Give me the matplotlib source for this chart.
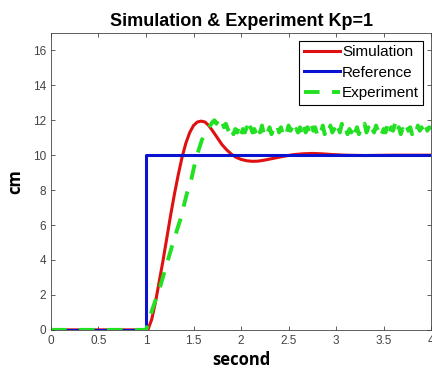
import matplotlib
matplotlib.use("Agg")
import matplotlib.pyplot as plt

plt.rcParams['font.family'] = ['Liberation Sans', 'DejaVu Sans']

# simulation response
sim_t = [0.0, 1.00, 1.02, 1.06, 1.10, 1.14, 1.18, 1.22, 1.26, 1.30, 1.34, 1.38,
         1.42, 1.46, 1.50, 1.54, 1.58, 1.62, 1.66, 1.70, 1.75, 1.80, 1.85,
         1.90, 1.95, 2.00, 2.06, 2.12, 2.18, 2.25, 2.35, 2.45, 2.55, 2.65,
         2.75, 2.85, 2.95, 3.10, 3.30, 3.60, 4.00]
sim_y = [0.0, 0.0, 0.0, 0.6, 1.6, 2.8, 4.0, 5.3, 6.6, 7.8, 8.9, 9.9,
         10.7, 11.3, 11.7, 11.9, 11.95, 11.9, 11.7, 11.4, 11.0, 10.6, 10.3,
         10.05, 9.87, 9.76, 9.68, 9.65, 9.66, 9.72, 9.83, 9.94, 10.03, 10.08,
         10.1, 10.08, 10.04, 10.0, 9.98, 10.0, 10.0]

# reference step
ref_t = [0.0, 1.0, 1.0, 4.0]
ref_y = [0.0, 0.0, 10.0, 10.0]

# experiment: rise part
exp_rise_t = [0.0, 1.00, 1.02, 1.04, 1.15, 1.29, 1.36, 1.43, 1.48, 1.53, 1.59, 1.64]
exp_rise_y = [0.0, 0.0, 0.3, 0.75, 2.5, 5.1, 6.3, 7.8, 8.7, 9.9, 10.9, 11.4]

# experiment: noisy plateau
exp_noise_t = [
    1.70, 1.72, 1.74, 1.76, 1.78, 1.80, 1.82, 1.84, 1.86,
    1.88, 1.90, 1.92, 1.94, 1.96, 1.98, 2.00, 2.02, 2.04, 2.06,
    2.08, 2.10, 2.12, 2.14, 2.16, 2.18, 2.20, 2.22, 2.24, 2.26,
    2.28, 2.30, 2.32, 2.34, 2.36, 2.38, 2.40, 2.42, 2.44, 2.46,
    2.48, 2.50, 2.52, 2.54, 2.56, 2.58, 2.60, 2.62, 2.64, 2.66,
    2.68, 2.70, 2.72, 2.74, 2.76, 2.78, 2.80, 2.82, 2.84, 2.86,
    2.88, 2.90, 2.92, 2.94, 2.96, 2.98, 3.00, 3.02, 3.04, 3.06,
    3.08, 3.10, 3.12, 3.14, 3.16, 3.18, 3.20, 3.22, 3.24, 3.26,
    3.28, 3.30, 3.32, 3.34, 3.36, 3.38, 3.40, 3.42, 3.44, 3.46,
    3.48, 3.50, 3.52, 3.54, 3.56, 3.58, 3.60, 3.62, 3.64, 3.66,
    3.68, 3.70, 3.72, 3.74, 3.76, 3.78, 3.80, 3.82, 3.84, 3.86,
    3.88, 3.90, 3.92, 3.94, 3.96, 3.98, 4.00]
exp_noise_y = [
    11.9, 12.0, 11.8, 12.0, 11.7, 11.9, 11.6, 11.8, 11.5,
    11.3, 11.6, 11.2, 11.5, 11.3, 11.7, 11.2, 11.5, 11.3, 11.6,
    11.2, 11.6, 11.3, 11.5, 11.2, 11.6, 11.3, 11.7, 11.2, 11.5,
    11.3, 11.6, 11.2, 11.5, 11.4, 11.7, 11.3, 11.6, 11.2, 11.5,
    11.3, 11.7, 11.4, 11.6, 11.2, 11.5, 11.3, 11.6, 11.2, 11.7,
    11.3, 11.6, 11.3, 11.8, 11.4, 11.6, 11.2, 11.5, 11.3, 11.7,
    11.2, 11.6, 11.4, 11.7, 11.3, 11.5, 11.2, 11.6, 11.3, 11.8,
    11.4, 11.6, 11.2, 11.5, 11.3, 11.7, 11.3, 11.6, 11.2, 11.5,
    11.4, 11.8, 11.3, 11.6, 11.2, 11.5, 11.3, 11.7, 11.4, 11.6,
    11.2, 11.5, 11.3, 11.7, 11.2, 11.6, 11.4, 11.8, 11.3, 11.6,
    11.2, 11.5, 11.3, 11.7, 11.4, 11.6, 11.2, 11.5, 11.3, 11.7,
    11.4, 11.6, 11.3, 11.7, 11.4, 11.6, 11.5]

x_ticks = [0, 0.5, 1, 1.5, 2, 2.5, 3, 3.5, 4]
x_tick_labels = ['0', '0.5', '1', '1.5', '2', '2.5', '3', '3.5', '4']
y_ticks = [0, 2, 4, 6, 8, 10, 12, 14, 16]

fig = plt.figure(figsize=(4.32, 3.74), dpi=100)
ax = fig.add_axes([0.118, 0.118, 0.88, 0.794])

ax.plot(sim_t, sim_y, color='#e01010', lw=2.2, label='Simulation')
ax.plot(ref_t, ref_y, color='#0a14d0', lw=2.2, label='Reference')
ax.plot(exp_rise_t + exp_noise_t, exp_rise_y + exp_noise_y, color='#22e022',
        lw=2.8, ls=(0, (4, 3.2)), label='Experiment')

ax.set_xlim(0, 4)
ax.set_ylim(0, 17)
ax.set_xticks(x_ticks)
ax.set_xticklabels(x_tick_labels)
ax.set_yticks(y_ticks)
ax.tick_params(direction='in', top=True, right=True, length=3, width=0.6,
               labelsize=8.5, labelcolor='#444444', colors='#444444')
for sp in ax.spines.values():
    sp.set_linewidth(0.6)
    sp.set_color('#444444')

ax.set_title('Simulation & Experiment Kp=1', fontsize=13, fontweight='bold', pad=5)
ax.set_xlabel('second', fontsize=12, fontweight='bold', family=['Open Sans', 'DejaVu Sans'], labelpad=3)
ax.set_ylabel('cm', fontsize=12, fontweight='bold', family=['Open Sans', 'DejaVu Sans'], labelpad=6)

leg = ax.legend(loc='upper right', fontsize=11, fancybox=False, framealpha=1,
                edgecolor='black', handlelength=2.4, handletextpad=0.1,
                borderpad=0.3, labelspacing=0.42, borderaxespad=0.5)
leg.get_frame().set_linewidth(0.8)

fig.savefig('out.png', dpi=100)
